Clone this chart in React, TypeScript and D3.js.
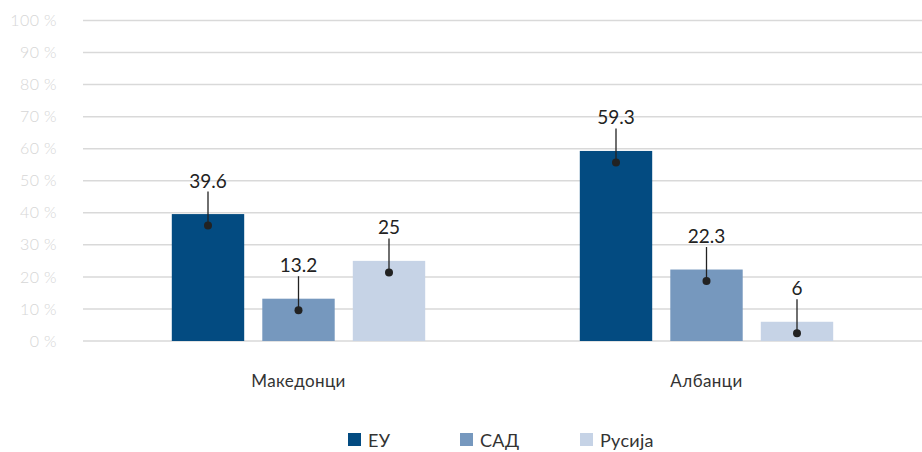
import React from "react";
import * as d3 from "d3";

const categories = ["Македонци", "Албанци"];
const series = ["ЕУ", "САД", "Русија"];
const valuesEU = [39.6, 59.3];
const valuesUSA = [13.2, 22.3];
const valuesRussia = [25, 6];
const seriesValues = [valuesEU, valuesUSA, valuesRussia];
const colors = ["#034b81", "#7698be", "#c6d3e6"];
const yTicks = [0, 10, 20, 30, 40, 50, 60, 70, 80, 90, 100];

const W = 922;
const H = 452;
const FONT = "Lato, 'Open Sans', sans-serif";

export default function App() {
  const y = d3.scaleLinear().domain([0, 100]).range([341, 20.5]);
  const x0 = d3.scaleBand<string>().domain(categories).range([94.5, 910.5]);
  const x1 = d3
    .scaleBand<string>()
    .domain(series)
    .range([-135.75, 135.75])
    .paddingInner(0.2)
    .paddingOuter(0.1);

  const legendX = [348, 460, 580];

  return (
    <svg width={W} height={H} style={{ position: "absolute", left: 0, top: 0 }} fontFamily={FONT}>
      <rect width={W} height={H} fill="#fff" />
      {yTicks.map((t) => (
        <g key={t}>
          <line x1={83} x2={922} y1={y(t)} y2={y(t)} stroke="#d9d9d9" strokeWidth={1.5} />
          <text x={57} y={y(t)} dy="0.35em" textAnchor="end" fontSize={16} fontWeight={300} letterSpacing={0.4} fill="#d6d6d6">
            {t} %
          </text>
        </g>
      ))}
      {categories.map((c, ci) => {
        const cx = (x0(c) as number) + x0.bandwidth() / 2;
        return (
          <g key={c}>
            {series.map((s, si) => {
              const v = seriesValues[si][ci];
              const bx = cx + (x1(s) as number);
              const bw = x1.bandwidth();
              const top = y(v);
              const mx = bx + bw / 2;
              const dotY = top + 11.5;
              const lineTop = dotY - 34;
              return (
                <g key={s}>
                  <rect x={bx} y={top} width={bw} height={y(0) - top} fill={colors[si]} />
                  <line x1={mx} x2={mx} y1={dotY} y2={lineTop} stroke="#222" strokeWidth={1.3} />
                  <circle cx={mx} cy={dotY} r={4} fill="#222" />
                  <text x={mx} y={lineTop - 4} textAnchor="middle" fontSize={19} fill="#222">
                    {v}
                  </text>
                </g>
              );
            })}
            <text x={cx} y={387} textAnchor="middle" fontSize={17} letterSpacing={0.4} fill="#333">
              {c}
            </text>
          </g>
        );
      })}
      {series.map((s, si) => (
        <g key={s}>
          <rect x={legendX[si]} y={433} width={13} height={13} fill={colors[si]} />
          <text x={legendX[si] + 20} y={447} fontSize={18} letterSpacing={0.3} fill="#333">
            {s}
          </text>
        </g>
      ))}
    </svg>
  );
}
